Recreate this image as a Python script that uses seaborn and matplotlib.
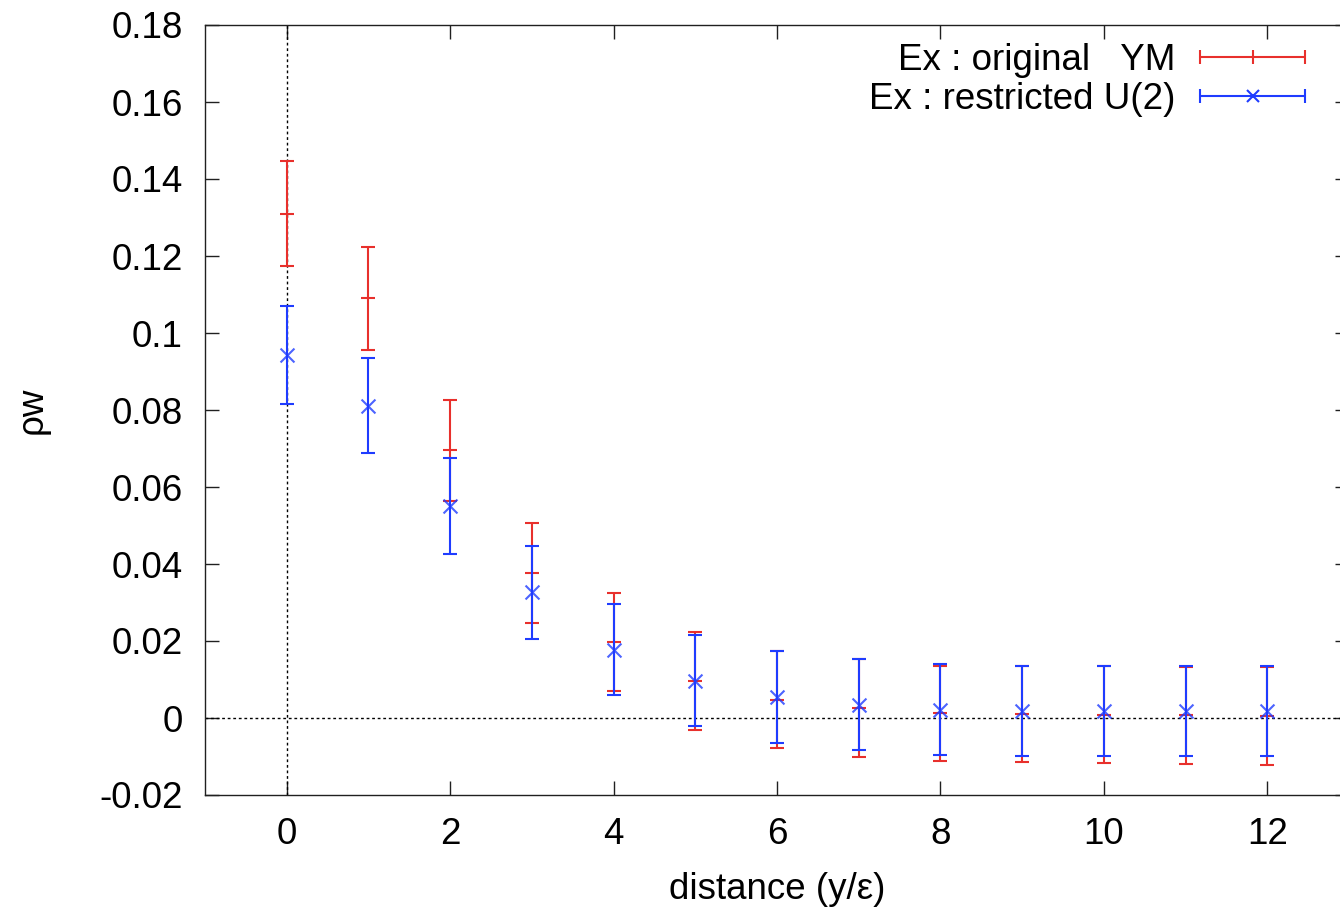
import numpy as np
import seaborn as sns
import matplotlib.pyplot as plt
from matplotlib.lines import Line2D
from matplotlib.legend_handler import HandlerLine2D, HandlerTuple
from matplotlib.ticker import FormatStrFormatter

# distance (y/eps)
distance = [0, 1, 2, 3, 4, 5, 6, 7, 8, 9, 10, 11, 12]

# Ex : original YM
orig_val = [0.1310, 0.1090, 0.0695, 0.0377, 0.0197, 0.0096, 0.0048,
            0.0026, 0.0012, 0.0010, 0.0008, 0.0007, 0.0005]
orig_err = [0.0137, 0.0133, 0.0131, 0.0129, 0.0127, 0.0127, 0.0126,
            0.0126, 0.0124, 0.0124, 0.0126, 0.0126, 0.0128]

# Ex : restricted U(2)
restr_val = [0.0943, 0.0811, 0.0551, 0.0326, 0.0177, 0.0097, 0.0055,
             0.0035, 0.0022, 0.0018, 0.0018, 0.0018, 0.0018]
restr_err = [0.0127, 0.0123, 0.0125, 0.0120, 0.0118, 0.0119, 0.0119,
             0.0119, 0.0118, 0.0117, 0.0117, 0.0117, 0.0117]

labels = ["Ex : original   YM", "Ex : restricted U(2)"]
RED = "#e8302c"
BLUE = "#1f3cff"
FS = 26.5
LW = 1.5

sns.set_theme(style="ticks")
plt.rcParams.update({
    "font.family": ["Liberation Sans", "DejaVu Sans"],
    "font.size": FS,
    "xtick.labelsize": FS,
    "ytick.labelsize": FS,
    "axes.labelsize": FS,
    "legend.fontsize": FS,
    "text.color": "black",
    "axes.labelcolor": "black",
    "xtick.labelcolor": "black",
    "ytick.labelcolor": "black",
})

fig = plt.figure(figsize=(13.4, 9.11), dpi=100)
ax = fig.add_axes([205 / 1340, 1 - 795 / 911, 1144 / 1340, 770 / 911])

# zero axes (dotted)
ax.axhline(0, color="black", lw=1.0, ls=(0, (2, 2)), zorder=1)
ax.axvline(0, color="black", lw=1.0, ls=(0, (2, 2)), zorder=1)

# error bars
ax.errorbar(distance, orig_val, yerr=orig_err, fmt="none", ecolor=RED,
            elinewidth=LW, capsize=5, capthick=LW, zorder=2)
ax.errorbar(distance, restr_val, yerr=restr_err, fmt="none", ecolor=BLUE,
            elinewidth=LW, capsize=5, capthick=LW, zorder=4)

# central points
sns.scatterplot(x=distance, y=orig_val, marker="_", s=90, color=RED,
                linewidth=LW, ax=ax, zorder=3)
sns.scatterplot(x=distance, y=restr_val, marker="x", s=100, color=BLUE,
                linewidth=LW, ax=ax, zorder=5, alpha=0.8)

ax.set_xlim(-1, 13)
ax.set_ylim(-0.02, 0.18)
ax.set_xticks(np.arange(0, 13, 2))
ax.set_yticks(np.arange(-0.02, 0.1801, 0.02))
ax.yaxis.set_major_formatter(FormatStrFormatter("%g"))
ax.tick_params(direction="in", length=10, width=1.0, pad=16,
               top=True, right=True, colors="#202020", labelcolor="black")
for sp in ax.spines.values():
    sp.set_visible(True)
    sp.set_linewidth(1.0)
    sp.set_color("#202020")

ax.set_xlabel("distance (y/ε)", labelpad=14)
ax.set_ylabel("ρw", labelpad=36)

# gnuplot style legend samples
red_line = Line2D([], [], color=RED, lw=LW, marker="|", markersize=10,
                  markeredgewidth=LW)
red_mid = Line2D([], [], color=RED, ls="none", marker="|", markersize=10,
                 markeredgewidth=LW)
blue_line = Line2D([], [], color=BLUE, lw=LW, marker="|", markersize=10,
                   markeredgewidth=LW)
blue_mid = Line2D([], [], color=BLUE, ls="none", marker="x", markersize=9,
                  markeredgewidth=LW)
hmap = {
    tuple: HandlerTuple(ndivide=1),
    red_line: HandlerLine2D(numpoints=2, marker_pad=0),
    blue_line: HandlerLine2D(numpoints=2, marker_pad=0),
    red_mid: HandlerLine2D(numpoints=1),
    blue_mid: HandlerLine2D(numpoints=1),
}
ax.legend([(red_line, red_mid), (blue_line, blue_mid)], labels,
          handler_map=hmap, loc="upper right",
          bbox_to_anchor=(0.9615, 0.9766), frameon=False,
          markerfirst=False, handlelength=2.84, handletextpad=0.68,
          labelspacing=0.1, borderpad=0, borderaxespad=0)

fig.savefig("out.png", dpi=100)
